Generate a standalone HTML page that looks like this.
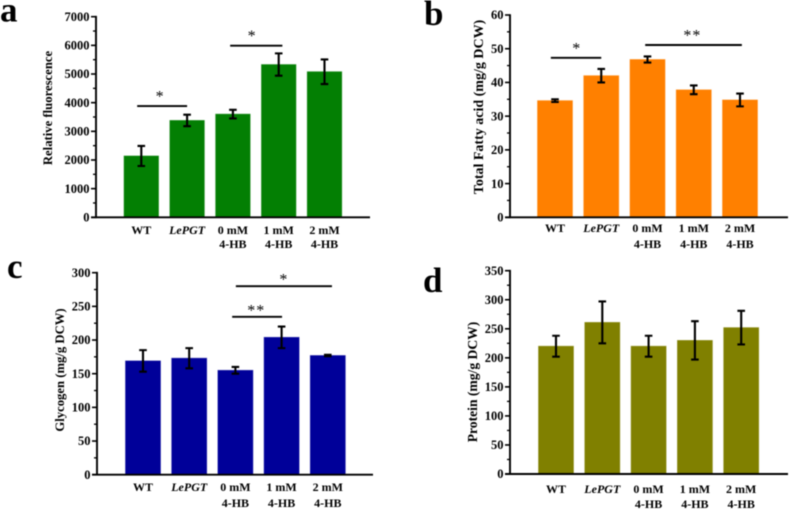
<!DOCTYPE html>
<html lang="en">
<head>
<meta charset="utf-8">
<title>Four bar chart panels</title>
<style>
html,body{margin:0;padding:0;background:#fff;width:789px;height:512px;overflow:hidden}
svg{display:block;font-family:"Liberation Serif",serif;font-weight:bold;filter:blur(0.45px)}
</style>
</head>
<body>
<svg id="figure" xmlns="http://www.w3.org/2000/svg" width="789" height="512" viewBox="0 0 789 512"></svg>
<script>
const categoryLine1 = ['WT', 'LePGT', '0 mM', '1 mM', '2 mM'];
const categoryLine2 = ['', '', '4-HB', '4-HB', '4-HB'];

const aValues = [2140, 3380, 3600, 5330, 5080];
const aErrors = [350, 200, 150, 390, 430];
const aTicks = [0, 1000, 2000, 3000, 4000, 5000, 6000, 7000];

const bValues = [34.6, 42, 46.8, 37.8, 34.8];
const bErrors = [0.4, 2, 0.9, 1.3, 1.9];
const bTicks = [0, 10, 20, 30, 40, 50, 60];

const cValues = [169, 173, 155, 204, 177];
const cErrors = [16, 15, 5, 16, 1];
const cTicks = [0, 50, 100, 150, 200, 250, 300];

const dValues = [220, 261, 220, 230, 252];
const dErrors = [18, 36, 18, 33, 29];
const dTicks = [0, 50, 100, 150, 200, 250, 300, 350];

const aSignificance = [
  {mark: '*', from: -0.09, to: 1.0, at: 0.41, level: 3880},
  {mark: '*', from: 1.94, to: 3.08, at: 2.42, level: 5990}
];
const bSignificance = [
  {mark: '*', from: -0.09, to: 1.0, at: 0.47, level: 47.3},
  {mark: '**', from: 1.95, to: 4.04, at: 2.97, level: 51.1}
];
const cSignificance = [
  {mark: '*', from: 2.01, to: 4.09, at: 3.05, level: 280},
  {mark: '**', from: 1.93, to: 3.01, at: 2.45, level: 234.5}
];
const dSignificance = [];

const panels = [
  {id: 'a', color: '#037f03', title: 'Relative fluorescence', titleSize: 12.7, values: aValues, errors: aErrors, ticks: aTicks, sig: aSignificance,
   left: 96, right: 370, y0: 217.3, yTop: 16.7, first: 141.3, step: 45.8, barW: 34.5,
   titleX: 52, titleY: 108, line1: 234, line2: 248, letterX: 0, letterY: 21.5, letterName: 'panel-letter-a', starGap: 12},
  {id: 'b', color: '#ff8000', title: 'Total Fatty acid (mg/g DCW)', titleSize: 14, values: bValues, errors: bErrors, ticks: bTicks, sig: bSignificance,
   left: 510, right: 788, y0: 217.3, yTop: 15, first: 555, step: 46.25, barW: 35,
   titleX: 483, titleY: 107, line1: 232, line2: 248, letterX: 424, letterY: 25, letterName: 'panel-letter-b', starGap: 12},
  {id: 'c', color: '#000099', title: 'Glycogen (mg/g DCW)', titleSize: 12.7, values: cValues, errors: cErrors, ticks: cTicks, sig: cSignificance,
   left: 97, right: 373, y0: 474.7, yTop: 272.7, first: 143, step: 46.2, barW: 35,
   titleX: 64, titleY: 370, line1: 491, line2: 507, letterX: 7, letterY: 278, letterName: 'panel-letter-c', starGap: 9},
  {id: 'd', color: '#808000', title: 'Protein (mg/g DCW)', titleSize: 13.6, values: dValues, errors: dErrors, ticks: dTicks, sig: dSignificance,
   left: 510, right: 788, y0: 474, yTop: 270.7, first: 556, step: 46.3, barW: 35,
   titleX: 477, titleY: 382, line1: 493, line2: 508, letterX: 423, letterY: 292, letterName: 'panel-letter-d', starGap: 12}
];

const SVG_NS = 'http://www.w3.org/2000/svg';
const figure = document.getElementById('figure');

function make(parent, tag, props, content) {
  const el = document.createElementNS(SVG_NS, tag);
  for (const key in props) el.setAttribute(key, props[key]);
  if (content !== undefined) el.textContent = content;
  parent.appendChild(el);
  return el;
}

panels.forEach(function (p) {
  const maxTick = p.ticks[p.ticks.length - 1];
  const xScale = function (i) { return p.first + p.step * i; };
  const yScale = function (v) { return p.y0 - (v / maxTick) * (p.y0 - p.yTop); };

  const group = make(figure, 'g', {});
  
  

  const letter = make(group, 'text', {x: p.letterX, y: p.letterY, 'font-size': 35, fill: '#000'}, p.id);
  
  

  p.values.forEach(function (v, i) {
    const bar = make(group, 'rect', {
      x: xScale(i) - p.barW / 2, y: yScale(v), width: p.barW, height: p.y0 - yScale(v),
      fill: p.color, stroke: p.color, 'stroke-opacity': 0.6, 'stroke-width': 0.8
    });
    
    

    const hi = yScale(v + p.errors[i]);
    const lo = yScale(v - p.errors[i]);
    const cx = xScale(i);
    const err = make(group, 'path', {
      d: 'M' + (cx - 3.8) + ' ' + hi + 'H' + (cx + 3.8) + 'M' + cx + ' ' + hi + 'V' + lo + 'M' + (cx - 3.8) + ' ' + lo + 'H' + (cx + 3.8),
      fill: 'none', stroke: '#000', 'stroke-width': 2.1
    });
    
    

    const label1 = make(group, 'text', {
      x: cx, y: p.line1, 'text-anchor': 'middle', 'font-size': 12, fill: '#000',
      'font-style': categoryLine1[i] === 'LePGT' ? 'italic' : 'normal'
    }, categoryLine1[i]);
    
    

    if (categoryLine2[i]) {
      const label2 = make(group, 'text', {
        x: cx, y: p.line2, 'text-anchor': 'middle', 'font-size': 12, fill: '#000'
      }, categoryLine2[i]);
      
      
    }
  });

  const yAxis = make(group, 'line', {x1: p.left, x2: p.left, y1: p.yTop - 0.8, y2: p.y0 + 0.8, stroke: '#000', 'stroke-width': 1.9});
  
  

  const xAxis = make(group, 'line', {x1: p.left - 5, x2: p.right, y1: p.y0, y2: p.y0, stroke: '#000', 'stroke-width': 1.9});
  
  

  p.ticks.forEach(function (t, i) {
    const ty = yScale(t);
    const tick = make(group, 'line', {x1: p.left - 5, x2: p.left, y1: ty, y2: ty, stroke: '#000', 'stroke-width': 1.6});
    
    

    const tickLabel = make(group, 'text', {x: p.left - 6.5, y: ty + 4.2, 'text-anchor': 'end', 'font-size': 12.5, fill: '#000'}, t);
    
    

    if (i < p.ticks.length - 1) {
      const my = yScale((t + p.ticks[i + 1]) / 2);
      const minor = make(group, 'line', {x1: p.left - 3, x2: p.left, y1: my, y2: my, stroke: '#000', 'stroke-width': 1.3});
      
      
    }
  });

  const title = make(group, 'text', {
    x: 0, y: 0, 'text-anchor': 'middle', 'font-size': p.titleSize, fill: '#000',
    transform: 'translate(' + p.titleX + ' ' + p.titleY + ') rotate(-90)'
  }, p.title);
  
  

  p.sig.forEach(function (s, i) {
    const ly = yScale(s.level);
    const line = make(group, 'line', {x1: xScale(s.from), x2: xScale(s.to), y1: ly, y2: ly, stroke: '#000', 'stroke-width': 1.9});
    
    

    const star = make(group, 'text', {
      x: xScale(s.at), y: ly - p.starGap + 7.5, 'text-anchor': 'middle', 'font-size': 16,
      'font-weight': 'normal', 'letter-spacing': 1, fill: '#000'
    }, s.mark);
    
    
  });
});
</script>
</body>
</html>
